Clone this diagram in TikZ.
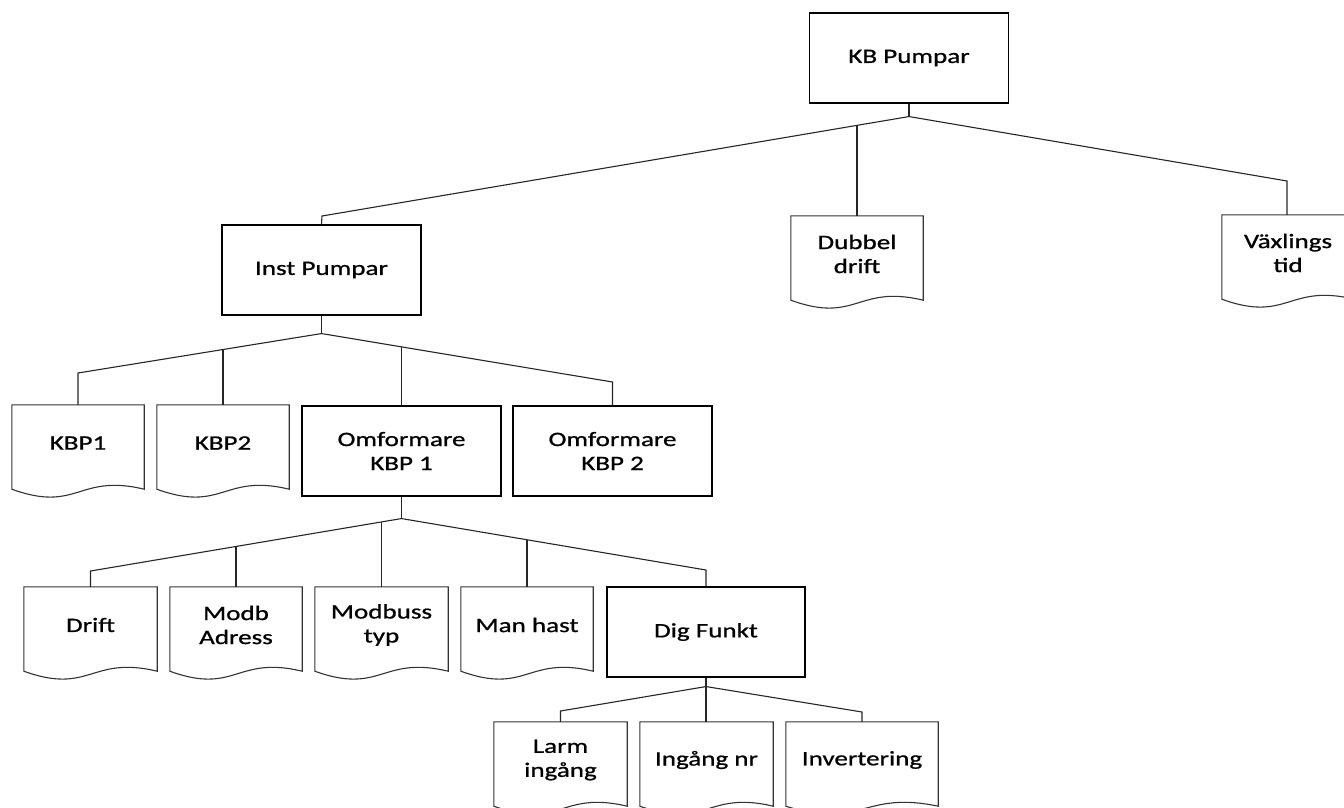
\documentclass[tikz,border=0pt]{standalone}
\usepackage{fontspec}
\setmainfont{Carlito}[FakeStretch=1.32,FakeBold=0.9]
\usetikzlibrary{calc}

% outline of a flowchart "document" shape around node #1 (wavy bottom edge)
\newcommand\docoutline[1]{%
  \draw[docline] ($(#1.south west)+(0,8)$) -- (#1.north west) -- (#1.north east)
    -- ($(#1.south east)+(0,8)$)
    .. controls ($(#1.south)+(0,-8)$) and ($(#1.south)+(0,32)$) .. ($(#1.south west)+(0,8)$)
    -- cycle;}

\begin{document}
\begin{tikzpicture}[x=1pt,y=-1pt,
  every node/.style={font=\fontsize{20.5}{24}\selectfont, align=center, inner sep=0pt},
  boxnode/.style={draw=black, line width=1.1pt, minimum width=199pt, minimum height=90pt},
  docnode/.style={minimum width=#1, minimum height=76pt},
  docnode/.default=132pt,
  docline/.style={draw=black!80, line width=1.1pt},
  link/.style={draw=black!85, line width=1.1pt}]

\useasboundingbox (0,0) rectangle (1344,807);

% ---- level 1
\node[boxnode] (kb) at (909,58) {KB Pumpar};
\node[boxnode] (inst) at (321.5,270) {Inst Pumpar};
\node[docnode] (dubbel) at (857,254) {Dubbel\\drift};
\node[docnode] (vax) at (1288,253) {Växlings\\tid};

% ---- level 2
\node[docnode] (kbp1) at (78,443) {KBP1};
\node[docnode] (kbp2) at (223,443) {KBP2};
\node[boxnode] (omf1) at (401.5,451) {Omformare\\KBP 1};
\node[boxnode] (omf2) at (612.5,451) {Omformare\\KBP 2};

% ---- level 3
\node[docnode=133pt] (drift) at (90.5,625) {Drift};
\node[docnode] (modb) at (236,625) {Modb\\Adress};
\node[docnode=133pt] (modbuss) at (381.5,625) {Modbuss\\typ};
\node[docnode] (manhast) at (527,625) {Man hast};
\node[boxnode, minimum width=198pt] (dig) at (706,632) {Dig Funkt};

% ---- level 4
\node[docnode=133pt] (larm) at (560.5,760) {Larm\\ingång};
\node[docnode=133pt] (ingang) at (706.5,760) {Ingång nr};
\node[docnode=152pt] (invert) at (862,760) {Invertering};

% document outlines
\foreach \n in {dubbel,vax,kbp1,kbp2,drift,modb,modbuss,manhast,larm,ingang,invert}
  {\docoutline{\n}}

% ---- connectors: KB Pumpar
\coordinate (h1) at ($(kb.south)+(0,13)$);
\coordinate (e1l) at (322,216);
\coordinate (e1r) at (1287,181);
\draw[link] (kb.south) -- (h1);
\draw[link] (h1) -- (e1l) -- (inst.north);
\draw[link] (h1) -- (e1r) -- (vax.north -| e1r);
\coordinate (j1) at ($(h1)!0.0886!(e1l)$);
\draw[link] (dubbel.north) -- (dubbel.north |- j1);

% ---- connectors: Inst Pumpar
\coordinate (h2) at ($(inst.south)+(0,18)$);
\coordinate (e2l) at (78,373);
\coordinate (e2r) at (612.5,382);
\draw[link] (inst.south) -- (h2);
\draw[link] (h2) -- (e2l) -- (kbp1.north);
\draw[link] (h2) -- (e2r) -- (omf2.north);
\coordinate (j2a) at ($(h2)!0.406!(e2l)$);
\coordinate (j2b) at ($(h2)!0.274!(e2r)$);
\draw[link] (kbp2.north) -- (kbp2.north |- j2a);
\draw[link] (omf1.north) -- (omf1.north |- j2b);

% ---- connectors: Omformare KBP 1
\coordinate (h3) at ($(omf1.south)+(0,22)$);
\coordinate (e3l) at (90.5,571);
\coordinate (e3r) at (706,570);
\draw[link] (omf1.south) -- (h3);
\draw[link] (h3) -- (e3l) -- (drift.north);
\draw[link] (h3) -- (e3r) -- (dig.north);
\coordinate (j3a) at ($(h3)!0.532!(e3l)$);
\coordinate (j3b) at ($(h3)!0.064!(e3l)$);
\coordinate (j3c) at ($(h3)!0.412!(e3r)$);
\draw[link] (modb.north) -- (modb.north |- j3a);
\draw[link] (modbuss.north) -- (modbuss.north |- j3b);
\draw[link] (manhast.north) -- (manhast.north |- j3c);

% ---- connectors: Dig Funkt
\coordinate (h4) at ($(dig.south)+(0,9)$);
\coordinate (e4l) at (560.5,711);
\coordinate (e4r) at (862,712);
\draw[link] (dig.south) -- (h4);
\draw[link] (h4) -- (e4l) -- (larm.north);
\draw[link] (h4) -- (e4r) -- (invert.north);
\draw[link] (h4) -- (ingang.north -| h4);

\end{tikzpicture}
\end{document}
